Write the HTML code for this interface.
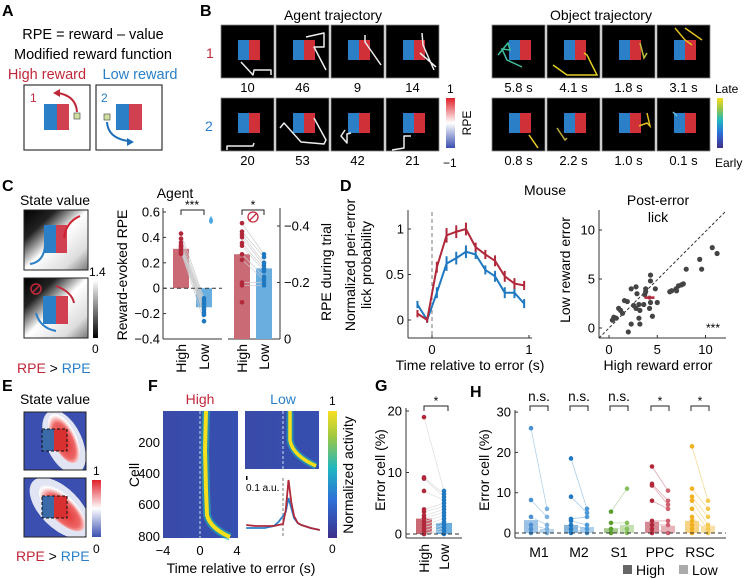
<!DOCTYPE html>
<html><head><meta charset="utf-8"><style>
html,body{margin:0;padding:0;background:#fff}
svg{display:block;font-family:"Liberation Sans",Arial,sans-serif}
</style></head><body>
<svg id="fig" width="747" height="579" viewBox="0 0 747 579" xmlns="http://www.w3.org/2000/svg">
<defs>
<linearGradient id="gray" x1="0" y1="0" x2="1" y2="1"><stop offset="0" stop-color="#000"/><stop offset="0.25" stop-color="#222"/><stop offset="0.5" stop-color="#fff"/><stop offset="0.8" stop-color="#ddd"/><stop offset="1" stop-color="#777"/></linearGradient>
<linearGradient id="graybar" x1="0" y1="1" x2="0" y2="0"><stop offset="0" stop-color="#000"/><stop offset="1" stop-color="#fff"/></linearGradient>
<linearGradient id="rpebar" x1="0" y1="1" x2="0" y2="0"><stop offset="0" stop-color="#3a4fb0"/><stop offset="0.5" stop-color="#fff"/><stop offset="1" stop-color="#e0202a"/></linearGradient>
<linearGradient id="parula" x1="0" y1="1" x2="0" y2="0"><stop offset="0" stop-color="#3e2f8a"/><stop offset="0.3" stop-color="#2c70d8"/><stop offset="0.55" stop-color="#1fb7c0"/><stop offset="0.8" stop-color="#9fc840"/><stop offset="1" stop-color="#f8e020"/></linearGradient>
<linearGradient id="blueheat" x1="0" y1="0" x2="1" y2="0"><stop offset="0" stop-color="#3a4aa8"/><stop offset="1" stop-color="#3550b0"/></linearGradient>
<radialGradient id="crescent" cx="0.45" cy="0.55" r="0.6"><stop offset="0" stop-color="#e02a2a"/><stop offset="0.6" stop-color="#ee6666"/><stop offset="0.85" stop-color="#fff"/><stop offset="1" stop-color="#dde"/></radialGradient>
<clipPath id="ce1"><rect x="24" y="412" width="62" height="58"/></clipPath>
<clipPath id="ce2"><rect x="24" y="478" width="62" height="59"/></clipPath>
</defs>

<!-- Panel A -->
<g>
<text x="2" y="16" font-size="16" font-weight="bold">A</text>
<text x="93" y="39" font-size="14.5" text-anchor="middle">RPE = reward – value</text>
<text x="93" y="59" font-size="14.5" text-anchor="middle">Modified reward function</text>
<text x="47" y="79" font-size="14.5" text-anchor="middle" fill="#c0283a">High reward</text>
<text x="140" y="79" font-size="14.5" text-anchor="middle" fill="#2a80c8">Low reward</text>
<rect x="24" y="85" width="66" height="65" fill="#fff" stroke="#333" stroke-width="1.2"/>
<rect x="44" y="104" width="13" height="26" fill="#2a7fc6"/><rect x="57" y="104" width="12" height="26" fill="#d04050"/>
<text x="30" y="102" font-size="12" fill="#c0283a">1</text>
<rect x="74" y="113" width="6" height="6" fill="#cfe0a0" stroke="#555" stroke-width="0.7"/>
<path d="M77 112 Q76 96 58 93" fill="none" stroke="#c0283a" stroke-width="2"/><path d="M53 93 l7 -4 l0 8z" fill="#c0283a"/>
<rect x="96" y="85" width="66" height="65" fill="#fff" stroke="#333" stroke-width="1.2"/>
<rect x="116" y="104" width="13" height="26" fill="#2a7fc6"/><rect x="129" y="104" width="13" height="26" fill="#d04050"/>
<text x="101" y="102" font-size="12" fill="#2a80c8">2</text>
<rect x="104" y="114" width="6" height="6" fill="#cfe0a0" stroke="#555" stroke-width="0.7"/>
<path d="M107 122 Q108 138 128 141" fill="none" stroke="#1f6fb8" stroke-width="2"/><path d="M134 142 l-7 4 l0 -8z" fill="#1f6fb8"/>
</g>

<!-- Panel B -->
<g>
<text x="200" y="16" font-size="16" font-weight="bold">B</text>
<text x="333" y="20" font-size="14" text-anchor="middle">Agent trajectory</text>
<text x="601" y="20" font-size="14" text-anchor="middle">Object trajectory</text>
<text x="206" y="58" font-size="14" fill="#c0283a">1</text>
<text x="205" y="131" font-size="14" fill="#2a80c8">2</text>
<g id="tiles"></g>
<rect x="446" y="98" width="9" height="50" fill="url(#rpebar)"/>
<text x="447" y="93" font-size="12">1</text>
<text x="443" y="167" font-size="12">−1</text>
<text transform="translate(471,123) rotate(-90)" font-size="12" text-anchor="middle">RPE</text>
<rect x="717" y="98" width="6" height="50" fill="url(#parula)"/>
<text x="715" y="93" font-size="12">Late</text>
<text x="715" y="167" font-size="12">Early</text>
</g>

<!-- Panel C -->
<g>
<text x="2" y="191" font-size="16" font-weight="bold">C</text>
<text x="55" y="205" font-size="14" text-anchor="middle">State value</text>
<rect x="24" y="210" width="64" height="60" fill="url(#gray)" stroke="#222"/>
<rect x="44" y="225" width="12" height="28" fill="#2a7fc6"/><rect x="56" y="225" width="11" height="28" fill="#d04050"/>
<path d="M80 216 Q66 222 64 238" stroke="#d02030" stroke-width="2" fill="none"/>
<path d="M30 264 Q44 262 45 245" stroke="#2a7fc6" stroke-width="2" fill="none"/>
<rect x="24" y="278" width="64" height="60" fill="url(#gray)" stroke="#222"/>
<rect x="43" y="296" width="13" height="28" fill="#2a7fc6"/><rect x="56" y="296" width="12" height="28" fill="#d04050"/>
<circle cx="36" cy="289" r="5" fill="none" stroke="#c0283a" stroke-width="1.5"/><path d="M32 293 L40 285" stroke="#c0283a" stroke-width="1.5"/>
<path d="M74 303 Q72 292 56 286" stroke="#c0283a" stroke-width="2" fill="none"/>
<path d="M36 313 Q40 328 56 331" stroke="#2a7fc6" stroke-width="2" fill="none"/>
<rect x="93" y="280" width="5" height="58" fill="url(#graybar)"/>
<text x="89" y="276" font-size="12">1.4</text>
<text x="92" y="353" font-size="12">0</text>
<text x="17" y="373" font-size="14"><tspan fill="#c0283a">RPE</tspan> &gt; <tspan fill="#2a80c8">RPE</tspan></text>
<text x="175" y="198" font-size="14" text-anchor="middle">Agent</text>
<text transform="translate(127,275) rotate(-90)" font-size="14" text-anchor="middle">Reward-evoked RPE</text>
<text transform="translate(331,272) rotate(-90)" font-size="14" text-anchor="middle">RPE during trial</text>
<g id="chartC"></g>
</g>

<!-- Panel D -->
<g>
<text x="340" y="191" font-size="16" font-weight="bold">D</text>
<text x="545" y="195" font-size="14" text-anchor="middle">Mouse</text>
<text transform="translate(355,265) rotate(-90)" font-size="14" text-anchor="middle">Normalized peri-error</text>
<text transform="translate(371,265) rotate(-90)" font-size="14" text-anchor="middle">lick probability</text>
<text x="470" y="370" font-size="14" text-anchor="middle">Time relative to error (s)</text>
<text x="658" y="205" font-size="14" text-anchor="middle">Post-error</text>
<text x="658" y="222" font-size="14" text-anchor="middle">lick</text>
<text transform="translate(570,270) rotate(-90)" font-size="14" text-anchor="middle">Low reward error</text>
<text x="658" y="370" font-size="14" text-anchor="middle">High reward error</text>
<g id="chartD1"></g><g id="chartD2"></g>
</g>

<!-- Panel E -->
<g>
<text x="2" y="391" font-size="16" font-weight="bold">E</text>
<text x="55" y="404" font-size="14" text-anchor="middle">State value</text>
<g clip-path="url(#ce1)"><rect x="24" y="412" width="62" height="58" fill="#3a4fb0"/>
<ellipse cx="64" cy="442" rx="18" ry="34" transform="rotate(-25 64 442)" fill="#fff" opacity="0.85"/>
<ellipse cx="64" cy="438" rx="12" ry="27" transform="rotate(-25 64 438)" fill="url(#crescent)"/>
<rect x="42" y="429" width="12" height="22" fill="#3a6aa8"/><rect x="54" y="429" width="13" height="22" fill="#d83030"/>
<rect x="42" y="429" width="25" height="22" fill="none" stroke="#111" stroke-dasharray="3 2"/></g>
<rect x="24" y="412" width="62" height="58" fill="none" stroke="#222"/>
<g clip-path="url(#ce2)"><rect x="24" y="478" width="62" height="59" fill="#3a4fb0"/>
<ellipse cx="60" cy="508" rx="20" ry="38" transform="rotate(-45 60 508)" fill="#fff" opacity="0.85"/>
<ellipse cx="62" cy="508" rx="13" ry="30" transform="rotate(-45 62 508)" fill="url(#crescent)"/>
<rect x="42" y="496" width="12" height="22" fill="#3a6aa8"/><rect x="54" y="496" width="13" height="22" fill="#d83030"/>
<rect x="42" y="496" width="25" height="22" fill="none" stroke="#111" stroke-dasharray="3 2"/></g>
<rect x="24" y="478" width="62" height="59" fill="none" stroke="#222"/>
<rect x="92" y="480" width="9" height="57" fill="url(#rpebar)"/>
<text x="93" y="475" font-size="12">1</text>
<text x="93" y="553" font-size="12">0</text>
<text x="16" y="561" font-size="14"><tspan fill="#c0283a">RPE</tspan> &gt; <tspan fill="#2a80c8">RPE</tspan></text>
</g>

<!-- Panel F -->
<g>
<text x="148" y="391" font-size="16" font-weight="bold">F</text>
<text x="200" y="404" font-size="14" text-anchor="middle" fill="#c0283a">High</text>
<text x="283" y="404" font-size="14" text-anchor="middle" fill="#2a80c8">Low</text>
<rect x="163" y="411" width="75" height="127" fill="url(#blueheat)"/>
<path d="M206 411 L205 450 L206 490 L207 515 Q210 528 230 537" stroke="#20b8b0" stroke-width="8" fill="none" opacity="0.6"/>
<path d="M206 411 L205 450 L206 490 L207 515 Q210 528 230 537" stroke="#f6e01c" stroke-width="4" fill="none"/>
<line x1="200" y1="411" x2="200" y2="538" stroke="#cde" stroke-dasharray="3 2"/>
<rect x="245" y="411" width="74" height="58" fill="url(#blueheat)"/>
<path d="M290 411 L290 440 Q292 455 316 466" stroke="#20b8b0" stroke-width="7" fill="none" opacity="0.6"/>
<path d="M290 411 L290 440 Q292 455 316 466" stroke="#f6e01c" stroke-width="3.5" fill="none"/>
<line x1="283" y1="411" x2="283" y2="469" stroke="#cde" stroke-dasharray="3 2"/>
<rect x="328" y="411" width="9" height="127" fill="url(#parula)"/>
<text x="329" y="405" font-size="12">1</text>
<text x="329" y="553" font-size="12">0</text>
<text transform="translate(353,475) rotate(-90)" font-size="14" text-anchor="middle">Normalized activity</text>
<text transform="translate(139,475) rotate(-90)" font-size="14" text-anchor="middle">Cell</text>
<text x="160" y="447" font-size="13" text-anchor="end">200</text>
<text x="160" y="478" font-size="13" text-anchor="end">400</text>
<text x="160" y="509" font-size="13" text-anchor="end">600</text>
<text x="160" y="541" font-size="13" text-anchor="end">800</text>
<text x="163" y="555" font-size="13" text-anchor="middle">−4</text>
<text x="200" y="555" font-size="13" text-anchor="middle">0</text>
<text x="237" y="555" font-size="13" text-anchor="middle">4</text>
<text x="241" y="573" font-size="14" text-anchor="middle">Time relative to error (s)</text>
<rect x="246" y="476" width="1.5" height="4" fill="#000"/>
<text x="246" y="491" font-size="10">0.1 a.u.</text>
<line x1="283" y1="478" x2="283" y2="538" stroke="#777" stroke-dasharray="3 2"/>
<g id="chartF"></g>
</g>

<!-- Panel G -->
<g>
<text x="375" y="391" font-size="16" font-weight="bold">G</text>
<text transform="translate(385,470) rotate(-90)" font-size="14" text-anchor="middle">Error cell (%)</text>
<g id="chartG"></g>
</g>

<!-- Panel H -->
<g>
<text x="470" y="397" font-size="16" font-weight="bold">H</text>
<text transform="translate(489,470) rotate(-90)" font-size="14" text-anchor="middle">Error cell (%)</text>
<g id="chartH"></g>
<rect x="623" y="565" width="9" height="9" fill="#666"/>
<text x="636" y="575" font-size="14">High</text>
<rect x="679" y="565" width="9" height="9" fill="#aaa"/>
<text x="692" y="575" font-size="14">Low</text>
</g>
</svg>
<script>
// ---------- data ----------
const cHighDots=[0.43,0.39,0.36,0.34,0.33,0.32,0.31,0.3,0.29,0.28,0.27];
const cLowDots=[-0.08,-0.1,-0.12,-0.13,-0.15,-0.17,-0.19,-0.21,-0.26];
const cBars=[0.31,-0.15];
const cTrialHighDots=[-0.41,-0.38,-0.37,-0.36,-0.34,-0.33,-0.3,-0.28,-0.2,-0.19,-0.13];
const cTrialLowDots=[-0.3,-0.29,-0.27,-0.26,-0.25,-0.24,-0.22,-0.21,-0.2,-0.19];
const cTrialBars=[-0.3,-0.25];
const dTimes=[-0.15,-0.05,0.05,0.15,0.25,0.35,0.45,0.55,0.65,0.75,0.85,0.95];
const dHigh=[0.07,0.0,0.58,0.93,0.97,1.0,0.8,0.72,0.65,0.48,0.4,0.38];
const dLow=[0.17,0.0,0.3,0.62,0.68,0.75,0.72,0.55,0.48,0.3,0.3,0.18];
const dErr=[0.04,0.03,0.06,0.08,0.07,0.07,0.05,0.05,0.06,0.06,0.06,0.05];
const sHighX=[10.7,11.2,9.4,9.6,8.0,7.7,7.5,7.2,6.95,7.0,6.5,6.3,4.3,4.3,4.8,3.8,2.8,2.3,2.9,3.8,3.6,3.1,2.8,3.2,4.2,5.0,1.9,1.6,1.0,1.2,1.4,0.5,0.35,0.75,3.1,3.2,2.3,4.5,2.0,3.7,2.55,4.3];
const sLowY=[8.2,7.6,7.0,6.0,6.0,4.5,4.4,4.3,4.0,3.8,3.8,3.7,5.4,4.8,4.0,4.0,4.2,4.0,3.5,3.7,2.4,2.4,2.0,1.8,2.0,2.6,2.7,2.8,2.0,1.8,1.5,1.1,0.8,1.0,1.0,0.4,0.4,1.2,-0.4,3.4,2.3,2.6];
const sMean=[4.2,3.1];
const fTime=[-4,-3,-2,-1,-0.5,0,0.3,0.6,0.9,1.2,1.6,2,3,4];
const fHigh=[0.13,0.12,0.12,0.12,0.13,0.14,0.28,0.58,0.36,0.22,0.15,0.13,0.1,0.08];
const fLow=[0.1,0.1,0.1,0.12,0.16,0.22,0.26,0.4,0.3,0.2,0.15,0.13,0.1,0.08];
const gCats=["High","Low"];
const gBars=[2.5,1.8];
const gHighDots=[19,9.2,9,7,4,3.6,3,2.6,2,1.5,1,0.5,0,0];
const gLowDots=[7,6.5,6,5.5,5,4.5,4,3.5,3,2.5,2,1.5,1,0.5,0];
const hAreas=["M1","M2","S1","PPC","RSC"];
const hHigh=[3.2,2.0,1.2,2.8,3.0];
const hLow=[1.0,1.5,2.0,1.8,1.8];
const hSig=["n.s.","n.s.","n.s.","*","*"];
const hHighDots=[[26,8.2,4,2,1,0],[18.5,9,3.5,3,2,1,0],[5.3,2.5,1,0],[16.5,12.2,11.8,8,3,2,1,0],[21.5,11,9,8,6,4,3,2,1,0]];
const hLowDots=[[6,4,2,1,0],[6,5,4,2,1,0],[11,2.5,1,0],[10.5,8,7,6,3,2,0],[8,6,4,2,1,0]];

// ---------- helpers ----------
const NS="http://www.w3.org/2000/svg";
function mk(parent,tag,attrs,text){const e=document.createElementNS(NS,tag);for(const k in attrs)e.setAttribute(k,attrs[k]);if(text!==undefined)e.textContent=text;parent.appendChild(e);return e;}
const RED="#b0283a",BLUE="#1f78c0",PINK="#c96a75",LBLUE="#6aaee0";
const TK=13;

// ---------- tiles (panel B) ----------
(function(){
 const g=document.getElementById('tiles');
 const agentX=[221,276,331,386],objX=[492,547,602,657],rows=[25,98];
 const agentNums=[["10","46","9","14"],["20","53","42","21"]];
 const objNums=[["5.8 s","4.1 s","1.8 s","3.1 s"],["0.8 s","2.2 s","1.0 s","0.1 s"]];
 const agentPaths=[["M20 37 L32 50 L33 45 L50 45 L50 50","M30 12 L48 8 L48 22 L38 22 L50 45","M34 10 L34 17 L50 40","M36 8 L37 20 L48 45 M34 28 L50 42"],["M6 52 L6 48 L32 48 L33 45","M4 30 L8 25 L25 44 L48 46 L50 42 L38 20","M14 32 L10 38 L16 45 L16 36 L20 35","M6 52 L18 50 L18 38 L25 38"]];
 const objPaths=[[["M6 30 L16 18 L18 25 L10 24 L15 35 L30 42","#40c0a0"],["M6 40 L20 50 L50 50 L40 30 L37 28","#e0d020"],["M38 18 L42 33 L45 28","#c0c040"],["M18 3 L28 15 L35 20 M28 3 L45 15","#e0c020"]],[["M37 37 L46 50","#f0d020"],["M10 30 L18 42 L20 40","#c0b040"],["M37 28 L45 25 L48 28 L45 15","#e0c020"],["M16 14 L20 18","#60c0e0"]]];
 for(let r=0;r<2;r++)for(let c=0;c<4;c++){
  [[agentX,agentNums,agentPaths,'agent'],[objX,objNums,objPaths,'object']].forEach(function(spec){
   const x=spec[0][c],y=rows[r];
   const t=mk(g,'g',{});
   
   
   mk(t,'rect',{x:x,y:y,width:53,height:53,fill:'#000',stroke:'#888','stroke-width':0.8});
   mk(t,'rect',{x:x+17,y:y+15,width:11,height:20,fill:'#2a7fc6'});
   mk(t,'rect',{x:x+28,y:y+15,width:11,height:20,fill:'#d03038'});
   const p=spec[2][r][c];
   if(spec[3]==='agent') mk(t,'path',{d:p,transform:'translate('+x+','+y+')',stroke:'#eee','stroke-width':1.5,fill:'none','stroke-linejoin':'round'});
   else mk(t,'path',{d:p[0],transform:'translate('+x+','+y+')',stroke:p[1],'stroke-width':1.5,fill:'none'});
   mk(t,'text',{x:x+26.5,y:y+67,'font-size':13,'text-anchor':'middle'},spec[1][r][c]);
  });
 }
})();

// ---------- Chart C ----------
(function(){
 const g=document.getElementById('chartC');
 const yL=v=>288.2-127*v, yR=v=>339+282.5*v;
 mk(g,'line',{x1:163,y1:208,x2:163,y2:339,stroke:'#333'});
 mk(g,'line',{x1:163,y1:339,x2:222,y2:339,stroke:'#333'});
 [0.6,0.4,0.2,0,-0.2,-0.4].forEach(v=>{mk(g,'line',{x1:163,x2:166,y1:yL(v),y2:yL(v),stroke:'#333'});mk(g,'text',{x:160,y:yL(v)+4.5,'font-size':TK,'text-anchor':'end'},v<0?'−'+Math.abs(v):String(v));});
 const bx=[173,196],cols=[PINK,LBLUE];
 cBars.forEach((v,i)=>{const b=mk(g,'rect',{x:bx[i],y:Math.min(yL(v),yL(0)),width:16,height:Math.abs(yL(v)-yL(0)),fill:cols[i]});});
 for(let i=0;i<Math.min(cHighDots.length,cLowDots.length);i++)mk(g,'line',{x1:181,y1:yL(cHighDots[i]),x2:204,y2:yL(cLowDots[i]),stroke:'#ccc','stroke-width':0.7});
 cHighDots.forEach(v=>mk(g,'circle',{cx:181,cy:yL(v),r:2.3,fill:RED}));
 cLowDots.forEach(v=>mk(g,'circle',{cx:204,cy:yL(v),r:2.3,fill:BLUE}));
 mk(g,'line',{x1:163,x2:222,y1:yL(0),y2:yL(0),stroke:'#333','stroke-dasharray':'4 3'});
 mk(g,'path',{d:'M181 215 L181 210 L204 210 L204 215',stroke:'#222',fill:'none'});
 mk(g,'text',{x:192,y:209,'font-size':12,'text-anchor':'middle'},'***');
 mk(g,'path',{d:'M211 216 q-4 6 0 8 q4 -2 0 -8z',fill:'#4aa8e0'});
 // second chart
 mk(g,'line',{x1:280,y1:208,x2:280,y2:339,stroke:'#333'});
 mk(g,'line',{x1:228,y1:339,x2:280,y2:339,stroke:'#333'});
 [-0.4,-0.2,0].forEach(v=>{mk(g,'line',{x1:277,x2:280,y1:yR(v),y2:yR(v),stroke:'#333'});mk(g,'text',{x:284,y:yR(v)+4.5,'font-size':TK},v<0?'−'+Math.abs(v):'0');});
 const bx2=[234,256];
 cTrialBars.forEach((v,i)=>{const b=mk(g,'rect',{x:bx2[i],y:yR(v),width:16,height:339-yR(v),fill:cols[i]});});
 for(let i=0;i<Math.min(cTrialHighDots.length,cTrialLowDots.length);i++)mk(g,'line',{x1:242,y1:yR(cTrialHighDots[i]),x2:264,y2:yR(cTrialLowDots[i]),stroke:'#ccc','stroke-width':0.7});
 cTrialHighDots.forEach(v=>mk(g,'circle',{cx:242,cy:yR(v),r:2.3,fill:RED}));
 cTrialLowDots.forEach(v=>mk(g,'circle',{cx:264,cy:yR(v),r:2.3,fill:BLUE}));
 mk(g,'path',{d:'M242 215 L242 210 L264 210 L264 215',stroke:'#222',fill:'none'});
 mk(g,'text',{x:253,y:209,'font-size':12,'text-anchor':'middle'},'*');
 mk(g,'circle',{cx:253,cy:217,r:5,fill:'none',stroke:'#c0283a','stroke-width':1.3});
 mk(g,'path',{d:'M249 221 L257 213',stroke:'#c0283a','stroke-width':1.3});
 [[181,'High'],[204,'Low'],[242,'High'],[264,'Low']].forEach(a=>mk(g,'text',{transform:'translate('+(a[0]+5)+',344) rotate(-90)','font-size':14,'text-anchor':'end'},a[1]));
})();

// ---------- Chart D1 ----------
(function(){
 const g=document.getElementById('chartD1');
 const x=t=>432+97*t, y=v=>320-91*v;
 mk(g,'line',{x1:408,y1:210,x2:408,y2:338,stroke:'#333'});
 mk(g,'line',{x1:408,y1:338,x2:532,y2:338,stroke:'#333'});
 [[1,'1'],[0.5,'0.5'],[0,'0']].forEach(a=>{mk(g,'line',{x1:408,x2:411,y1:y(a[0]),y2:y(a[0]),stroke:'#333'});mk(g,'text',{x:404,y:y(a[0])+4.5,'font-size':TK,'text-anchor':'end'},a[1]);});
 [[0,'0'],[1,'1']].forEach(a=>{mk(g,'line',{x1:x(a[0]),x2:x(a[0]),y1:338,y2:335,stroke:'#333'});mk(g,'text',{x:x(a[0]),y:354,'font-size':TK,'text-anchor':'middle'},a[1]);});
 mk(g,'line',{x1:x(0),x2:x(0),y1:212,y2:338,stroke:'#777','stroke-dasharray':'4 3'});
 [[dLow,BLUE,'line-low'],[dHigh,RED,'line-high']].forEach(s=>{
  const l=mk(g,'polyline',{points:dTimes.map((t,i)=>x(t)+','+y(s[0][i])).join(' '),fill:'none',stroke:s[1],'stroke-width':2});
  
  dTimes.forEach((t,i)=>mk(g,'line',{x1:x(t),x2:x(t),y1:y(s[0][i]+dErr[i]),y2:y(s[0][i]-dErr[i]),stroke:s[1],'stroke-width':2}));
 });
})();

// ---------- Chart D2 ----------
(function(){
 const g=document.getElementById('chartD2');
 const x=v=>609+9.65*v, y=v=>328-9.8*v;
 mk(g,'line',{x1:599,y1:210,x2:599,y2:338,stroke:'#333'});
 mk(g,'line',{x1:599,y1:338,x2:726,y2:338,stroke:'#333'});
 [0,5,10].forEach(v=>{mk(g,'line',{x1:599,x2:602,y1:y(v),y2:y(v),stroke:'#333'});mk(g,'text',{x:595,y:y(v)+4.5,'font-size':TK,'text-anchor':'end'},String(v));
  mk(g,'line',{x1:x(v),x2:x(v),y1:338,y2:335,stroke:'#333'});mk(g,'text',{x:x(v),y:354,'font-size':TK,'text-anchor':'middle'},String(v));});
 mk(g,'line',{x1:599,y1:338,x2:726,y2:211,stroke:'#333','stroke-dasharray':'3 2'});
 sHighX.forEach((v,i)=>{const c=mk(g,'circle',{cx:x(v),cy:y(sLowY[i]),r:2.6,fill:'#444'});});
 mk(g,'line',{x1:x(sMean[0])-5,x2:x(sMean[0])+5,y1:y(sMean[1]),y2:y(sMean[1]),stroke:RED,'stroke-width':2.5});
 mk(g,'line',{x1:x(sMean[0]),x2:x(sMean[0]),y1:y(sMean[1])-2,y2:y(sMean[1])+2,stroke:RED,'stroke-width':2.5});
 mk(g,'text',{x:713,y:332,'font-size':12,'text-anchor':'middle'},'***');
})();

// ---------- Chart F line ----------
(function(){
 const g=document.getElementById('chartF');
 const x=t=>283+9.2*t, y=v=>538-100*v;
 [[fLow,'#2a80c8'],[fHigh,RED]].forEach(s=>{const l=mk(g,'polyline',{points:fTime.map((t,i)=>x(t)+','+y(s[0][i])).join(' '),fill:'none',stroke:s[1],'stroke-width':1.8});});
})();

// ---------- Chart G ----------
(function(){
 const g=document.getElementById('chartG');
 const y=v=>534-6.15*v;
 mk(g,'line',{x1:406,y1:408,x2:406,y2:538,stroke:'#333'});
 mk(g,'line',{x1:406,y1:538,x2:462,y2:538,stroke:'#333'});
 [0,10,20].forEach(v=>{mk(g,'line',{x1:406,x2:409,y1:y(v),y2:y(v),stroke:'#333'});mk(g,'text',{x:402,y:y(v)+4.5,'font-size':TK,'text-anchor':'end'},String(v));});
 const bx=[416,436],cols=[PINK,LBLUE],cx=[424,444];
 gBars.forEach((v,i)=>{const b=mk(g,'rect',{x:bx[i],y:y(v),width:16,height:y(0)-y(v),fill:cols[i]});});
 for(let i=0;i<Math.min(gHighDots.length,gLowDots.length);i++)mk(g,'line',{x1:424,y1:y(gHighDots[i]),x2:444,y2:y(gLowDots[i]),stroke:'#ddd','stroke-width':0.7});
 gHighDots.forEach(v=>mk(g,'circle',{cx:424,cy:y(v),r:2.3,fill:RED}));
 gLowDots.forEach(v=>mk(g,'circle',{cx:444,cy:y(v),r:2.3,fill:BLUE}));
 mk(g,'line',{x1:406,x2:462,y1:y(0),y2:y(0),stroke:'#333','stroke-dasharray':'4 3'});
 mk(g,'path',{d:'M424 411 L424 406 L448 406 L448 411',stroke:'#222',fill:'none'});
 mk(g,'text',{x:436,y:405,'font-size':12,'text-anchor':'middle'},'*');
 gCats.forEach((c,i)=>mk(g,'text',{transform:'translate('+(cx[i]+5)+',544) rotate(-90)','font-size':14,'text-anchor':'end'},c));
})();

// ---------- Chart H ----------
(function(){
 const g=document.getElementById('chartH');
 const y=v=>533-4.03*v;
 const centers=[539,579,619,660,700];
 const hiC=["#4a90d0","#1f78c0","#5a9e30","#b0283a","#f0b020"];
 const loC=["#a8cce8","#9cc4e6","#b8d8a0","#e0a0a8","#f6d890"];
 const dotLo=["#7ab0e0","#4a98d8","#88c060","#d06070","#f5c850"];
 mk(g,'line',{x1:515,y1:410,x2:515,y2:538,stroke:'#333'});
 mk(g,'line',{x1:515,y1:538,x2:726,y2:538,stroke:'#333'});
 [0,10,20,30].forEach(v=>{mk(g,'line',{x1:515,x2:518,y1:y(v),y2:y(v),stroke:'#333'});mk(g,'text',{x:511,y:y(v)+4.5,'font-size':TK,'text-anchor':'end'},String(v));});
 hAreas.forEach((a,i)=>{
  const c=centers[i];
  const b1=mk(g,'rect',{x:c-15,y:y(hHigh[i]),width:14,height:y(0)-y(hHigh[i]),fill:hiC[i],opacity:0.55});
  
  const b2=mk(g,'rect',{x:c+1,y:y(hLow[i]),width:14,height:y(0)-y(hLow[i]),fill:loC[i],opacity:0.8});
  
  for(let k=0;k<Math.min(hHighDots[i].length,hLowDots[i].length);k++)mk(g,'line',{x1:c-8,y1:y(hHighDots[i][k]),x2:c+8,y2:y(hLowDots[i][k]),stroke:loC[i],'stroke-width':0.7});
  hHighDots[i].forEach(v=>mk(g,'circle',{cx:c-8,cy:y(v),r:2.3,fill:hiC[i]}));
  hLowDots[i].forEach(v=>mk(g,'circle',{cx:c+8,cy:y(v),r:2.3,fill:dotLo[i]}));
  mk(g,'path',{d:'M'+(c-9)+' 411 L'+(c-9)+' 406 L'+(c+9)+' 406 L'+(c+9)+' 411',stroke:'#222',fill:'none'});
  mk(g,'text',{x:c,y:hSig[i]==='*'?405:401,'font-size':hSig[i]==='*'?12:13.5,'text-anchor':'middle'},hSig[i]);
  mk(g,'text',{x:c,y:557,'font-size':14,'text-anchor':'middle'},a);
 });
 mk(g,'line',{x1:515,x2:726,y1:y(0),y2:y(0),stroke:'#333','stroke-dasharray':'4 3'});
})();
</script>
</body></html>
